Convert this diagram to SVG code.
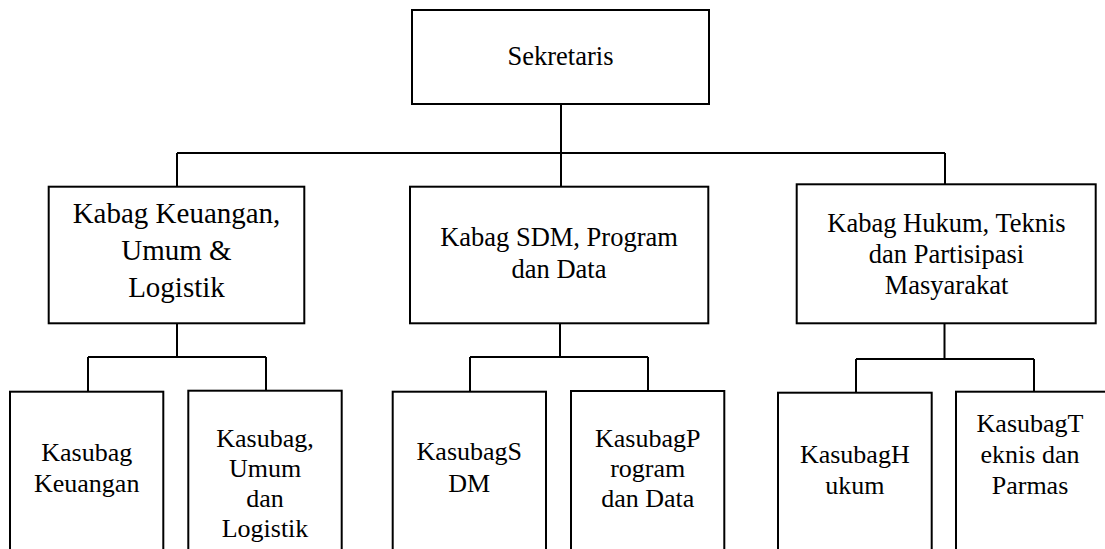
<svg xmlns="http://www.w3.org/2000/svg" width="1105" height="549" viewBox="0 0 1105 549">
<style>
.box{fill:#fff;stroke:#000;stroke-width:2}
.c{fill:none;stroke:#000;stroke-width:2}
text{font-family:"Liberation Serif","Times New Roman",serif;font-size:26px;fill:#000;text-anchor:middle}
.big{font-size:29px}
.mid{font-size:26.5px}
</style>
<rect width="1105" height="549" fill="#fff"/>
<g id="connectors">
<path class="c" d="M561,104V153M177,153H945M177,153V187M561,153V187M945,153V184"/>
<path class="c" d="M177,323V357M88,357H266M88,357V391M266,357V391"/>
<path class="c" d="M560,323V357M470,357H648M470,357V392M648,357V391"/>
<path class="c" d="M944.5,323V359M856,359H1034M856,359V393M1034,359V392"/>
</g>
<g id="sekretaris">
<rect class="box" x="412" y="10" width="297" height="94"/>
<text class="mid" x="560.5" y="65">Sekretaris</text>
</g>
<g id="kabag-keuangan">
<rect class="box" x="48.7" y="186.7" width="255.6" height="136.6"/>
<text class="big" x="176.5" y="223">Kabag Keuangan,</text>
<text class="big" x="176.5" y="260">Umum &amp;</text>
<text class="big" x="176.5" y="297">Logistik</text>
</g>
<g id="kabag-sdm">
<rect class="box" x="410" y="186.7" width="298.3" height="136.6"/>
<text class="mid" x="559" y="246">Kabag SDM, Program</text>
<text class="mid" x="559" y="278.3">dan Data</text>
</g>
<g id="kabag-hukum">
<rect class="box" x="796.7" y="184.3" width="299" height="139"/>
<text class="mid" x="946.5" y="231.7">Kabag Hukum, Teknis</text>
<text class="mid" x="946.5" y="263.3">dan Partisipasi</text>
<text class="mid" x="946.5" y="294">Masyarakat</text>
</g>
<g id="kasubag-keuangan">
<rect class="box" x="10" y="391.7" width="153.3" height="170"/>
<text x="86.7" y="460.7">Kasubag</text>
<text x="86.7" y="492.3">Keuangan</text>
</g>
<g id="kasubag-umum">
<rect class="box" x="188.3" y="390.7" width="153.4" height="170"/>
<text x="265" y="446.7">Kasubag,</text>
<text x="265" y="477.3">Umum</text>
<text x="265" y="506.7">dan</text>
<text x="265" y="536.7">Logistik</text>
</g>
<g id="kasubag-sdm">
<rect class="box" x="392.7" y="391.7" width="153.3" height="170"/>
<text x="469.3" y="460">KasubagS</text>
<text x="469.3" y="491.7">DM</text>
</g>
<g id="kasubag-program">
<rect class="box" x="571" y="391" width="153.3" height="170"/>
<text x="647.7" y="446.7">KasubagP</text>
<text x="647.7" y="477.3">rogram</text>
<text x="647.7" y="506.7">dan Data</text>
</g>
<g id="kasubag-hukum">
<rect class="box" x="778" y="392.7" width="153.7" height="170"/>
<text x="854.8" y="463.3">KasubagH</text>
<text x="854.8" y="494">ukum</text>
</g>
<g id="kasubag-teknis">
<rect class="box" x="956" y="391.7" width="152" height="170"/>
<text x="1030" y="431.7">KasubagT</text>
<text x="1030" y="463.3">eknis dan</text>
<text x="1030" y="494">Parmas</text>
</g>
</svg>
